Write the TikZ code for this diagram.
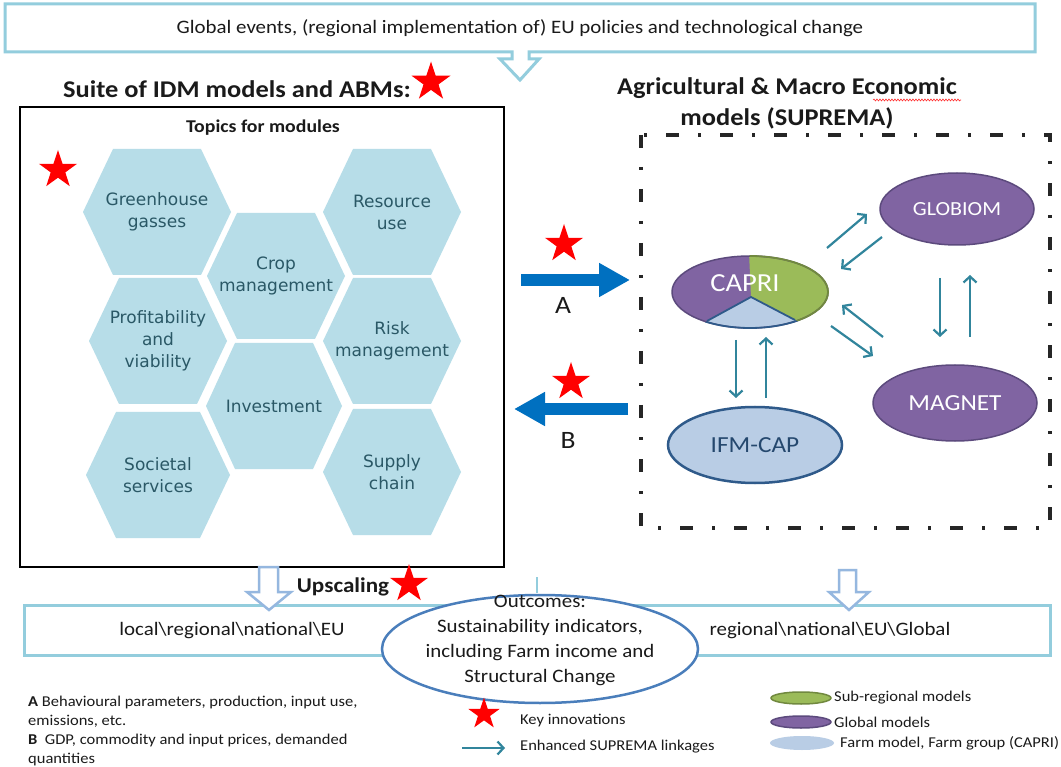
\documentclass[tikz,border=0pt]{standalone}
\usepackage{fontspec}
\setmainfont{Carlito}[FakeStretch=1.1]
\newfontfamily\hexfont{DejaVu Sans}
\usetikzlibrary{shapes.geometric,arrows.meta,decorations.pathmorphing}
\definecolor{aqua}{HTML}{93CDDD}
\definecolor{hexfill}{HTML}{B7DDE8}
\definecolor{hexink}{HTML}{2A5866}
\definecolor{purp}{HTML}{8064A2}
\definecolor{purpd}{HTML}{5C4A7D}
\definecolor{grn}{HTML}{9BBB59}
\definecolor{grnd}{HTML}{71893F}
\definecolor{lblue}{HTML}{B9CDE5}
\definecolor{lblued}{HTML}{2F5A8A}
\definecolor{teal}{HTML}{31859C}
\definecolor{bigblue}{HTML}{0070C0}
\definecolor{hollow}{HTML}{95B7DF}
\definecolor{outc}{HTML}{4A7EBB}
\definecolor{ink}{HTML}{1A1A1A}
\newcommand{\hexcell}[6]{%
  \fill[hexfill] (#2,#3) +(-#4,0) -- +(-#5,-63) -- +(#5,-63) -- +(#4,0) -- +(#5,63) -- +(-#5,63) -- cycle;
  \node[hextext] (#1) at (#2,#3) {#6};}
\begin{document}
\begin{tikzpicture}[x=1pt,y=-1pt,
  every node/.style={inner sep=0pt, text=ink},
  hextext/.style={font=\hexfont\fontsize{17}{22}\selectfont, text=hexink, align=center},
  mainfont/.style={font=\fontsize{19}{25}\selectfont},
  legfont/.style={font=\fontsize{15}{19}\selectfont},
  titlefont/.style={font=\bfseries\fontsize{24}{31}\selectfont},
  redstar/.style={star, star points=5, star point ratio=2.6, fill=red, minimum size=#1},
  model/.style={ellipse, fill=purp, draw=purpd, line width=1.5pt, text=white},
  link/.style={draw=teal, line width=2.2pt, -{Straight Barb[length=6pt,width=13pt]}},
  bigarrow/.style={draw=bigblue, line width=12pt, -{Triangle[length=31pt,width=32pt]}},
  hollowarrow/.style={fill=white, draw=hollow, line width=2.5pt, line join=miter},
]
\useasboundingbox (0,0) rectangle (1061,767);
\fill[white] (0,0) rectangle (1061,767);

% ---------- top banner with notch arrow
\filldraw[fill=white, draw=aqua, line width=3pt, line join=miter]
  (5,4) -- (1035,4) -- (1035,52) -- (529,52) -- (529,59) -- (539,59) -- (520,80)
  -- (500,59) -- (512,59) -- (512,52) -- (5,52) -- cycle;
\node[mainfont] (banner) at (520,28) {Global events, (regional implementation of) EU policies and technological change};

% ---------- titles
\node[titlefont] (ltitle) at (237,89) {Suite of IDM models and ABMs:};
\node[redstar=41] (star1) at (431,82) {};
\node[titlefont, align=center] (rtitle) at (787,103) {Agricultural \& Macro Economic\\models (SUPREMA)};
\draw[red!80, line width=0.6pt, decorate, decoration={snake, amplitude=1pt, segment length=3pt}] (873,100) -- (961,100);

% ---------- left box
\draw[black, line width=2.5pt] (20,107) rectangle (504,567);
\node[font=\bfseries\fontsize{18}{22}\selectfont] (topics) at (263,128) {Topics for modules};
\node[redstar=40] (star2) at (58,170) {};

\hexcell{ghg}{157}{212}{74}{44}{Greenhouse\\gasses}
\hexcell{crop}{276}{276}{69}{39}{Crop\\management}
\hexcell{res}{392}{212}{69}{39}{Resource\\use}
\hexcell{prof}{158}{341}{69}{39}{Profitability\\and\\viability}
\hexcell{risk}{392}{341}{69}{39}{Risk\\management}
\hexcell{inv}{274}{406}{68}{39}{Investment}
\hexcell{soc}{158}{475}{72}{42}{Societal\\services}
\hexcell{sup}{392}{472}{69}{39}{Supply\\chain}

% ---------- right dash-dot box
\draw[black!85, line width=4.5pt, dash pattern=on 13pt off 19pt on 3pt off 19pt] (641,135) rectangle (1050,528);

% CAPRI composite ellipse
\node[ellipse, fill=purp, minimum width=156pt, minimum height=72pt] (capri) at (750,292) {};
\begin{scope}
  \clip (750,292) ellipse (78 and 36);
  \fill[grn] (748,230) -- (751,297) -- (840,343.5) -- (840,230) -- cycle;
  \fill[lblue] (751,297) -- (680,336) -- (680,345) -- (820,345) -- (820,333) -- cycle;
\end{scope}
\draw[purpd, line width=1.5pt] (750,292) ellipse (78 and 36);
\begin{scope}
  \clip (748,200) -- (751,297) -- (860,354) -- (860,200) -- cycle;
  \draw[grnd, line width=1.8pt] (750,292) ellipse (78 and 36);
\end{scope}
\begin{scope}
  \clip (751,297) -- (660,347) -- (660,360) -- (840,360) -- (840,343.5) -- cycle;
  \draw[lblued, line width=1.8pt] (750,292) ellipse (78 and 36);
\end{scope}
\draw[lblued, line width=1.8pt, line join=round] (707,321) -- (751,297) -- (795,320);
\node[text=white, font=\fontsize{26}{30}\selectfont] (capritext) at (745,283) {CAPRI};

\node[model, minimum width=154pt, minimum height=72pt, font=\fontsize{20}{24}\selectfont] (globiom) at (957,209) {GLOBIOM};
\node[model, minimum width=164pt, minimum height=76pt, font=\fontsize{23}{27}\selectfont] (magnet) at (955,403) {MAGNET};
\node[ellipse, fill=lblue, draw=lblued, line width=2.5pt, minimum width=174pt, minimum height=76pt,
      text=lblued!80!black, font=\fontsize{23}{27}\selectfont] (ifm) at (755,445) {IFM-CAP};

% SUPREMA linkages
\coordinate (cg1) at (827,248); \coordinate (cg2) at (867,214);
\coordinate (gc1) at (882,237); \coordinate (gc2) at (841,269);
\coordinate (gm1) at (940,278); \coordinate (gm2) at (940,337);
\coordinate (mg1) at (970,337); \coordinate (mg2) at (970,275);
\coordinate (mc1) at (883,337); \coordinate (mc2) at (842,305);
\coordinate (cm1) at (831,326); \coordinate (cm2) at (873,356);
\coordinate (ci1) at (736,340); \coordinate (ci2) at (736,398);
\coordinate (ic1) at (766,398); \coordinate (ic2) at (766,337);
\draw[link] (cg1) -- (cg2);
\draw[link] (gc1) -- (gc2);
\draw[link] (gm1) -- (gm2);
\draw[link] (mg1) -- (mg2);
\draw[link] (mc1) -- (mc2);
\draw[link] (cm1) -- (cm2);
\draw[link] (ci1) -- (ci2);
\draw[link] (ic1) -- (ic2);

% ---------- A / B arrows
\coordinate (aS) at (521,280); \coordinate (aE) at (630,280);
\coordinate (bS) at (628,409); \coordinate (bE) at (514,409);
\draw[bigarrow] (aS) -- (aE);
\draw[bigarrow] (bS) -- (bE);
\node[redstar=40] (starA) at (564,244) {};
\node[redstar=40] (starB) at (571,382) {};
\node[font=\fontsize{25}{28}\selectfont] (labA) at (563,305) {A};
\node[font=\fontsize{25}{28}\selectfont] (labB) at (568,440) {B};

% ---------- bottom box
\draw[aqua, line width=3pt] (24,605) rectangle (1050,655);
\draw[aqua, line width=1.5pt] (537,577) -- (537,593);
\node[mainfont] (loc) at (232,631) {local\textbackslash regional\textbackslash national\textbackslash EU};
\node[mainfont] (reg) at (830,631) {regional\textbackslash national\textbackslash EU\textbackslash Global};

% hollow down arrows
\filldraw[hollowarrow] (259,567) -- (278,567) -- (278,592) -- (291,592) -- (269,610) -- (247,592) -- (259,592) -- cycle;
\filldraw[hollowarrow] (839,570) -- (856,570) -- (856,592) -- (869,592) -- (849,610) -- (829,592) -- (839,592) -- cycle;
\node[font=\bfseries\fontsize{21}{25}\selectfont] (ups) at (343,587) {Upscaling};
\node[redstar=40] (star3) at (409,584) {};

% outcomes
\node[ellipse, fill=white, draw=outc, line width=2.5pt, minimum width=316pt, minimum height=108pt] (outcomes) at (540,649) {};
\node[align=center, font=\fontsize{19}{25}\selectfont] (outtext) at (540,640)
  {Outcomes:\\Sustainability indicators,\\including Farm income and\\Structural Change};

% ---------- legend
\node[legfont, anchor=west] (la1) at (28,702) {\textbf{A} Behavioural parameters, production, input use,};
\node[legfont, anchor=west] (la2) at (28,721) {emissions, etc.};
\node[legfont, anchor=west] (lb1) at (28,740) {\textbf{B}\ \ GDP, commodity and input prices, demanded};
\node[legfont, anchor=west] (lb2) at (28,760) {quantities};

\node[redstar=33] (starL) at (484,714) {};
\node[legfont, anchor=west] (lkey) at (520,721) {Key innovations};
\coordinate (lt1) at (462,748); \coordinate (lt2) at (505,748);
\draw[link] (lt1) -- (lt2);
\node[legfont, anchor=west] (llink) at (520,747) {Enhanced SUPREMA linkages};

\node[ellipse, fill=grn, draw=grnd, line width=1.5pt, minimum width=60pt, minimum height=12pt] (lg) at (801,698) {};
\node[legfont, anchor=west] (lgt) at (834,698) {Sub-regional models};
\node[ellipse, fill=purp, draw=purpd, line width=1.5pt, minimum width=60pt, minimum height=12pt] (lp) at (801,722) {};
\node[legfont, anchor=west] (lpt) at (834,722) {Global models};
\node[ellipse, fill=lblue, minimum width=64pt, minimum height=14pt] (lf) at (802,743) {};
\node[legfont, anchor=west] (lft) at (840,743) {Farm model, Farm group (CAPRI)};
\end{tikzpicture}
\end{document}
